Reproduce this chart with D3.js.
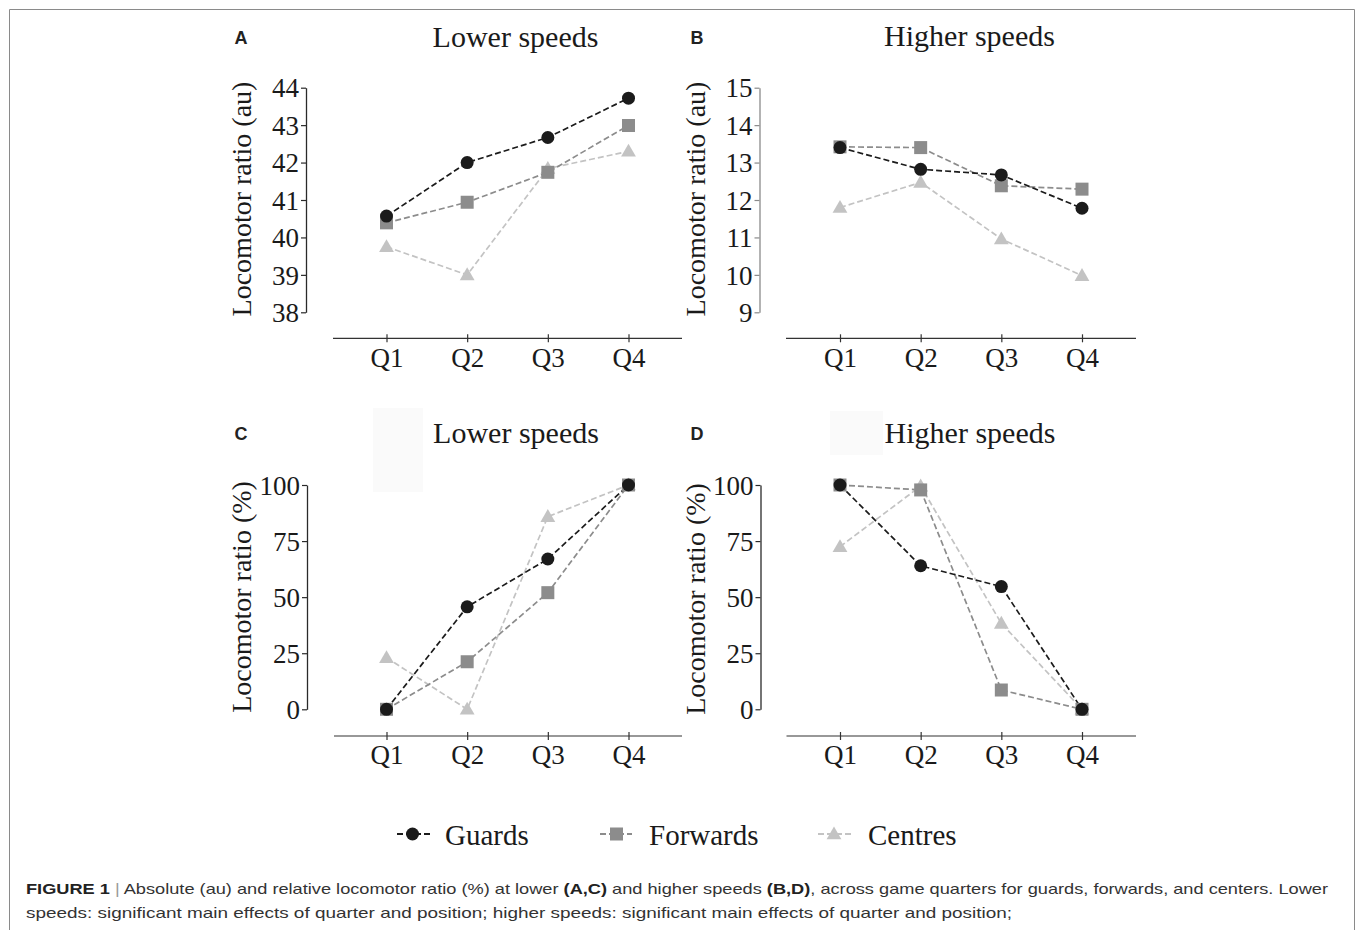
<!DOCTYPE html>
<html><head><meta charset="utf-8">
<script src="https://cdn.jsdelivr.net/npm/d3@7"></script>
<style>body{margin:0;background:#fff;} svg{display:block;}</style>
</head><body>
<svg id="fig" width="1357" height="930"></svg>
<script>
// ---- data ----
const quarters = ["Q1", "Q2", "Q3", "Q4"];
const seriesNames = ["Guards", "Forwards", "Centres"];
const absLowGuards = [40.57, 42.0, 42.67, 43.72];
const absLowForwards = [40.39, 40.94, 41.74, 42.99];
const absLowCentres = [39.75, 39.0, 41.84, 42.3];
const absHighGuards = [13.4, 12.82, 12.67, 11.78];
const absHighForwards = [13.42, 13.4, 12.38, 12.29];
const absHighCentres = [11.8, 12.47, 10.96, 9.98];
const relLowGuards = [0, 45.7, 67.0, 100];
const relLowForwards = [0, 21.2, 52.0, 100];
const relLowCentres = [23, 0, 85.9, 100];
const relHighGuards = [100, 64.0, 54.7, 0];
const relHighForwards = [100, 97.8, 8.6, 0];
const relHighCentres = [72.5, 99.5, 38.3, 0];
const absLowTicks = [38, 39, 40, 41, 42, 43, 44];
const absHighTicks = [9, 10, 11, 12, 13, 14, 15];
const relTicks = [0, 25, 50, 75, 100];

// ---- styles ----
const serif = "'Liberation Serif', 'Times New Roman', serif";
const sans = "'Liberation Sans', Arial, sans-serif";
const styles = {
  Guards:   {color: "#1b1b1b", shape: "circle"},
  Forwards: {color: "#8c8c8c", shape: "square"},
  Centres:  {color: "#c3c3c3", shape: "triangle"}
};
const svg = d3.select("#fig");

// frame
svg.append("path").attr("d", "M9.5,930V9.5H1354.5V930")
  .attr("fill", "none").attr("stroke", "#8a8a8a").attr("stroke-width", 1);

function marker(g, shape, x, y, color) {
  if (shape === "circle") {
    g.append("circle").attr("cx", x).attr("cy", y).attr("r", 6.5).attr("fill", color);
  } else if (shape === "square") {
    g.append("rect").attr("x", x - 6.5).attr("y", y - 6.5).attr("width", 13).attr("height", 13).attr("fill", color);
  } else {
    g.append("path").attr("d", d3.symbol(d3.symbolTriangle, 95)()).attr("transform", `translate(${x},${y + 1})`).attr("fill", color);
  }
}

const panels = [
  {letter: "A", title: "Lower speeds", ylabel: "Locomotor ratio (au)", domain: [38, 44], ticks: absLowTicks,
   data: [absLowGuards, absLowForwards, absLowCentres],
   ax: 306, yTop: 87.7, yBot: 312.3, xAxisY: 338.3, xa0: 333, xa1: 682, q0: 386.5, q1: 628.5,
   lx: 241, ly: 43.5, tx: 515.5, ty: 47, labX: 241.5, labY: 199, qy: 367, axisColor: "#2a2a2a"},
  {letter: "B", title: "Higher speeds", ylabel: "Locomotor ratio (au)", domain: [9, 15], ticks: absHighTicks,
   data: [absHighGuards, absHighForwards, absHighCentres],
   ax: 759.5, yTop: 87.7, yBot: 312.3, xAxisY: 338.3, xa0: 786, xa1: 1136, q0: 840, q1: 1082,
   lx: 697, ly: 43.5, tx: 969.5, ty: 46, labX: 695.5, labY: 199, qy: 367, axisColor: "#8a8a8a"},
  {letter: "C", title: "Lower speeds", ylabel: "Locomotor ratio (%)", domain: [0, 100], ticks: relTicks,
   data: [relLowGuards, relLowForwards, relLowCentres],
   ax: 307, yTop: 485, yBot: 709.3, xAxisY: 736, xa0: 334, xa1: 682, q0: 386.5, q1: 628.5,
   lx: 241, ly: 440, tx: 516, ty: 443, labX: 241.5, labY: 597, qy: 764, axisColor: "#2a2a2a",
   faint: [373, 408, 50, 84]},
  {letter: "D", title: "Higher speeds", ylabel: "Locomotor ratio (%)", domain: [0, 100], ticks: relTicks,
   data: [relHighGuards, relHighForwards, relHighCentres],
   ax: 760.5, yTop: 485, yBot: 709.3, xAxisY: 736, xa0: 786.5, xa1: 1136, q0: 840, q1: 1082,
   lx: 697, ly: 440, tx: 970, ty: 443, labX: 695.5, labY: 599, qy: 764, axisColor: "#2a2a2a",
   faint: [830, 411, 53, 44]}
];

panels.forEach(p => {
  const g = svg.append("g");
  if (p.faint) {
    g.append("rect").attr("x", p.faint[0]).attr("y", p.faint[1]).attr("width", p.faint[2]).attr("height", p.faint[3]).attr("fill", "#fafafa");
  }
  const y = d3.scaleLinear().domain(p.domain).range([p.yBot, p.yTop]);
  const x = d3.scalePoint().domain(quarters).range([p.q0, p.q1]);

  g.append("text").attr("x", p.lx).attr("y", p.ly).attr("text-anchor", "middle")
    .attr("font-family", sans).attr("font-weight", "bold").attr("font-size", 18).attr("fill", "#222").text(p.letter);
  g.append("text").attr("x", p.tx).attr("y", p.ty).attr("text-anchor", "middle")
    .attr("font-family", serif).attr("font-size", 30).attr("fill", "#1a1a1a").text(p.title);
  g.append("text").attr("transform", `translate(${p.labX},${p.labY}) rotate(-90)`)
    .attr("text-anchor", "middle").attr("dominant-baseline", "central")
    .attr("font-family", serif).attr("font-size", 28).attr("fill", "#1a1a1a").text(p.ylabel);

  const yAxis = g.append("g").attr("transform", `translate(${p.ax},0)`)
    .call(d3.axisLeft(y).tickValues(p.ticks).tickFormat(d3.format("d")).tickSize(5).tickSizeOuter(0).tickPadding(2));
  yAxis.select(".domain").attr("stroke", p.axisColor).attr("stroke-width", 1.3);
  yAxis.selectAll(".tick line").attr("stroke", p.axisColor).attr("stroke-width", 1.2);
  yAxis.selectAll(".tick text").attr("font-family", serif).attr("font-size", 27).attr("fill", "#1a1a1a").attr("dy", "0.34em");

  g.append("line").attr("x1", p.xa0).attr("x2", p.xa1).attr("y1", p.xAxisY).attr("y2", p.xAxisY)
    .attr("stroke", "#333").attr("stroke-width", 1.2);
  const xAxis = g.append("g").attr("transform", `translate(0,${p.xAxisY})`)
    .call(d3.axisBottom(x).tickSize(4).tickSizeOuter(0).tickPadding(0));
  xAxis.select(".domain").remove();
  xAxis.selectAll(".tick line").attr("y1", -4).attr("y2", 4).attr("stroke", "#333").attr("stroke-width", 1.2);
  xAxis.selectAll(".tick text").attr("y", p.qy - p.xAxisY).attr("dy", 0)
    .attr("font-family", serif).attr("font-size", 27).attr("fill", "#1a1a1a");

  const order = [2, 1, 0];
  order.forEach(i => {
    const st = styles[seriesNames[i]];
    const line = d3.line().x((d, j) => x(quarters[j])).y(d => y(d));
    g.append("path").datum(p.data[i]).attr("d", line).attr("fill", "none")
      .attr("stroke", st.color).attr("stroke-width", 1.7).attr("stroke-dasharray", "6,3");
  });
  order.forEach(i => {
    const st = styles[seriesNames[i]];
    p.data[i].forEach((v, j) => marker(g, st.shape, x(quarters[j]), y(v), st.color));
  });
});

// legend
const legendItems = [
  {name: "Guards", x0: 397, x1: 430, mx: 412.5, tx: 445},
  {name: "Forwards", x0: 600, x1: 632, mx: 616.5, tx: 649},
  {name: "Centres", x0: 818, x1: 851, mx: 834, tx: 868}
];
const legY = 834;
const lg = svg.append("g");
legendItems.forEach(it => {
  const st = styles[it.name];
  lg.append("line").attr("x1", it.x0).attr("x2", it.x1).attr("y1", legY).attr("y2", legY)
    .attr("stroke", st.color).attr("stroke-width", 1.8).attr("stroke-dasharray", "6,3");
  marker(lg, st.shape, it.mx, legY, st.color);
  lg.append("text").attr("x", it.tx).attr("y", legY + 11).attr("font-family", serif).attr("font-size", 29)
    .attr("fill", "#1a1a1a").text(it.name);
});

// caption
const cap1 = svg.append("text").attr("x", 26).attr("y", 894).attr("font-family", sans).attr("font-size", 15)
  .attr("fill", "#333").attr("textLength", 1302).attr("lengthAdjust", "spacingAndGlyphs");
cap1.append("tspan").attr("font-weight", "bold").attr("fill", "#222").text("FIGURE 1");
cap1.append("tspan").attr("fill", "#999").text(" | ");
cap1.append("tspan").text("Absolute (au) and relative locomotor ratio (%) at lower ");
cap1.append("tspan").attr("font-weight", "bold").attr("fill", "#222").text("(A,C)");
cap1.append("tspan").text(" and higher speeds ");
cap1.append("tspan").attr("font-weight", "bold").attr("fill", "#222").text("(B,D)");
cap1.append("tspan").text(", across game quarters for guards, forwards, and centers. Lower");
svg.append("text").attr("x", 26).attr("y", 918).attr("font-family", sans).attr("font-size", 15)
  .attr("fill", "#333").attr("textLength", 986).attr("lengthAdjust", "spacingAndGlyphs")
  .text("speeds: significant main effects of quarter and position; higher speeds: significant main effects of quarter and position;");
</script>
</body></html>
